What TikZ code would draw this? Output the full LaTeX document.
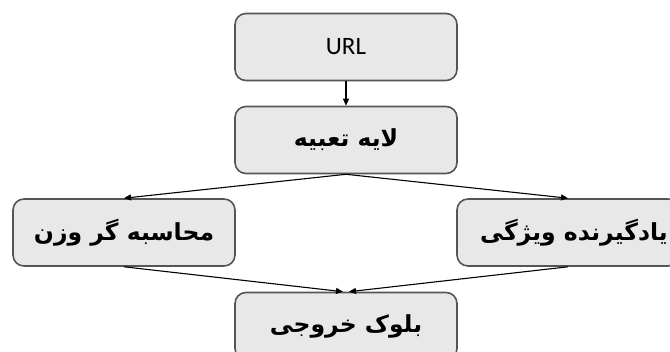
\documentclass[tikz,border=0pt]{standalone}
\usepackage{fontspec}
\setmainfont{Carlito}
\newfontfamily\fa[Script=Arabic]{DejaVu Sans}
\TeXXeTstate=1
\usetikzlibrary{arrows.meta}
\definecolor{boxfill}{HTML}{E8E8E8}
\definecolor{boxline}{HTML}{555555}
\tikzset{
  blk/.style={draw=boxline, fill=boxfill, line width=1.6pt, rounded corners=11pt,
    minimum width=222pt, minimum height=67pt, inner sep=0pt, align=center},
  fatext/.style={font=\fa\bfseries\fontsize{23.5}{28}\selectfont},
  conn/.style={line width=1.1pt, -{Triangle[length=7pt,width=6pt]}}
}
\begin{document}
\begin{tikzpicture}[x=1pt,y=1pt]
\useasboundingbox (0,0) rectangle (670,-352);
\clip (0,0) rectangle (670,-352);
\node[blk, font=\fontsize{25}{28}\selectfont] (url) at (346,-47) {URL};
\node[blk, fatext] (emb) at (346,-140) {\beginR لایه تعبیه\endR};
\node[blk, fatext] (wc) at (124,-232.5) {\beginR محاسبه گر وزن\endR};
\node[blk] (fl) at (568,-232.5) {};
\node[fatext, inner sep=0pt] (flt) at (574,-232.5) {\beginR یادگیرنده ویژگی\endR};
\node[blk, fatext] (out) at (346,-326) {\beginR بلوک خروجی\endR};
\draw[conn] (url.south) -- (emb.north);
\draw[conn] (emb.south) -- (wc.north);
\draw[conn] (emb.south) -- (fl.north);
\draw[conn] (wc.south) -- ([xshift=-3pt]out.north);
\draw[conn] (fl.south) -- ([xshift=3pt]out.north);
\end{tikzpicture}
\end{document}
